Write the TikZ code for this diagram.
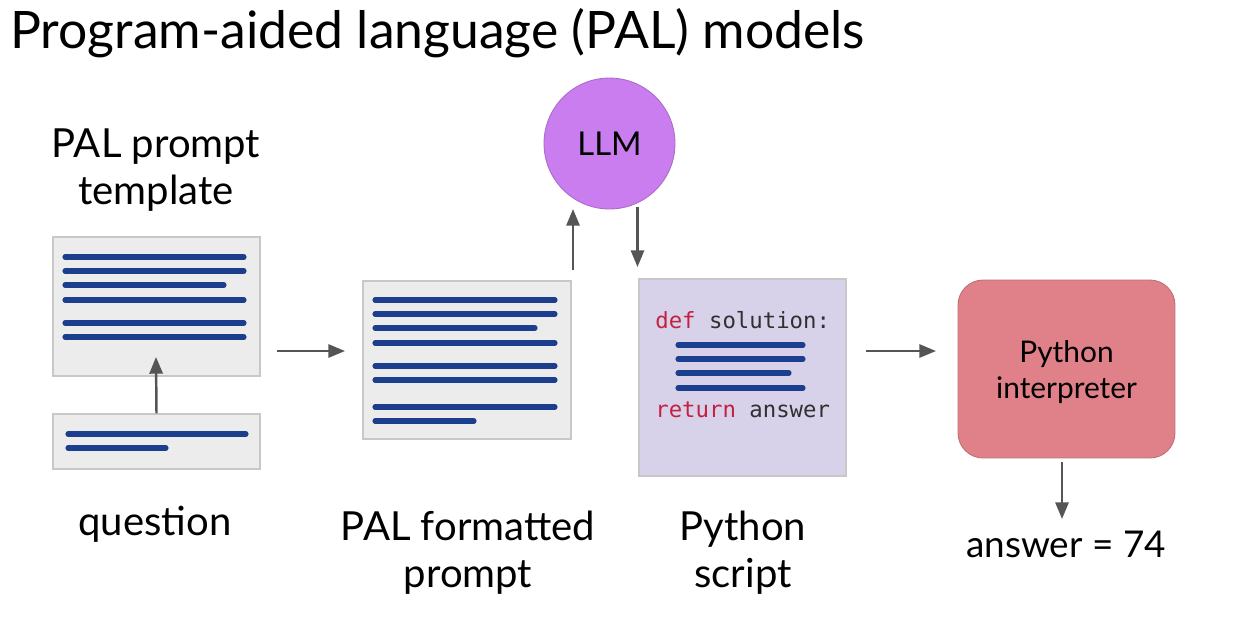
\documentclass[tikz,border=0pt]{standalone}
\usepackage{fontspec}
\setmainfont{Lato}
\setmonofont{DejaVu Sans Mono}
\usetikzlibrary{arrows.meta}

\definecolor{docgray}{HTML}{ECECEC}
\definecolor{docedge}{HTML}{C8C8C8}
\definecolor{textblue}{HTML}{1B3F8D}
\definecolor{llmviolet}{HTML}{C97DEE}
\definecolor{scriptlilac}{HTML}{D7D2EA}
\definecolor{interpred}{HTML}{E0818A}
\definecolor{arrowgray}{HTML}{555555}
\definecolor{keyred}{HTML}{C42140}
\definecolor{codegray}{HTML}{303030}

\tikzset{
  doc/.style={draw=docedge, fill=docgray, line width=0.8pt},
  textline/.style={draw=textblue, line width=2.9pt, line cap=round},
  flow/.style={draw=arrowgray, line width=1.4pt, -{Triangle[length=9.5pt,width=7.5pt]}},
  caption/.style={font=\fontsize{22.8}{26.8}\selectfont, align=center},
  code/.style={font=\ttfamily\fontsize{12.7}{15}\selectfont, inner sep=0pt, anchor=base west}
}

\begin{document}
\begin{tikzpicture}[x=0.02cm, y=-0.02cm]
  \useasboundingbox (0,0) rectangle (1243,620);

  \node[anchor=base west, inner sep=0pt, font=\fontsize{29.4}{34}\selectfont] (title) at (10,48) {Program-aided language (PAL) models};

  % prompt template and question
  \node[caption] (templatelabel) at (156,170) {PAL prompt\\template};
  \node[doc, minimum width=4.14cm, minimum height=2.78cm] (template) at (156.5,306.5) {};
  \foreach \y/\e in {257/244, 271/244, 285/224, 300/244, 323/244, 337/244}
    \draw[textline] (65,\y) -- (\e,\y);
  \node[doc, minimum width=4.14cm, minimum height=1.1cm] (question) at (156.5,441.5) {};
  \foreach \y/\e in {434/246, 448/166}
    \draw[textline] (68,\y) -- (\e,\y);
  \node[caption] (questionlabel) at (155,524) {question};

  % formatted prompt
  \node[doc, minimum width=4.16cm, minimum height=3.16cm] (formatted) at (467,360) {};
  \foreach \y/\e in {300/555, 314/555, 328/535, 343/555, 366/555, 380/555, 407/555, 421/474}
    \draw[textline] (375,\y) -- (\e,\y);
  \node[caption] (formattedlabel) at (468,553) {PAL formatted\\prompt};

  % LLM
  \node[circle, draw=llmviolet!85!black, line width=0.5pt, fill=llmviolet, minimum size=2.62cm,
    font=\fontsize{18.7}{22}\selectfont] (llm) at (609.5,143.5) {LLM};

  % python script
  \node[draw=docedge, fill=scriptlilac, line width=0.8pt, minimum width=4.14cm, minimum height=3.94cm] (script) at (742.5,377.5) {};
  \node[code] (def) at (655,328) {\textcolor{keyred}{def} \textcolor{codegray}{solution:}};
  \foreach \y/\e in {345/803, 359/803, 373/789, 388/803}
    \draw[textline] (678,\y) -- (\e,\y);
  \node[code] (ret) at (655,417) {\textcolor{keyred}{return} \textcolor{codegray}{answer}};
  \node[caption] (scriptlabel) at (743,553) {Python\\script};

  % interpreter
  \node[draw=interpred!85!black, line width=0.5pt, fill=interpred, rounded corners=0.5cm,
    minimum width=4.34cm, minimum height=3.56cm, align=center,
    font=\fontsize{17}{20.5}\selectfont] (interp) at (1066.5,369) {};
  \node[align=center, font=\fontsize{17}{20.5}\selectfont] (interptext) at (1066.5,372) {Python\\interpreter};
  \node[anchor=base, font=\fontsize{21}{25}\selectfont] (answer) at (1066,557) {answer = 74};

  % connectors
  \coordinate (qin) at (156,357);
  \coordinate (formin) at (345,351);
  \coordinate (llmin) at (573,209);
  \coordinate (llmfrom) at (573,270);
  \coordinate (llmout) at (637.5,207);
  \coordinate (scriptin) at (637.5,267);
  \coordinate (scriptfrom) at (866,351);
  \coordinate (interpin) at (936,351);
  \coordinate (answerin) at (1062,519);
  \draw[flow] (question.north) -- (qin);
  \draw[flow] (template.east |- formin) ++(16,0) -- (formin);
  \draw[flow] (llmfrom) -- (llmin);
  \draw[flow] (llmout) -- (scriptin);
  \draw[flow] (scriptfrom) -- (interpin);
  \draw[flow] (interp.south -| answerin) ++(0,4) -- (answerin);
\end{tikzpicture}
\end{document}
